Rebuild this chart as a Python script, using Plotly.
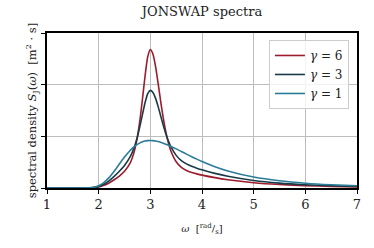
import plotly.graph_objects as go

omega = [1.0, 1.5, 1.8, 1.9, 2.0, 2.1, 2.2, 2.3, 2.4, 2.5, 2.6, 2.65, 2.7, 2.75, 2.8, 2.85, 2.9, 2.95,
         3.0, 3.05, 3.1, 3.15, 3.2, 3.25, 3.3, 3.35, 3.4, 3.5, 3.6, 3.7, 3.8, 3.9, 4.0, 4.25, 4.5,
         5.0, 5.5, 6.0, 6.5, 7.0]

s_gamma1 = [0.0, 0.0, 0.0027, 0.0133, 0.0435, 0.1047, 0.201, 0.3253, 0.463, 0.598, 0.716, 0.7663,
            0.809, 0.8448, 0.873, 0.8945, 0.909, 0.9173, 0.92, 0.9175, 0.911, 0.8997, 0.885, 0.8684,
            0.849, 0.8278, 0.805, 0.757, 0.706, 0.656, 0.606, 0.5583, 0.513, 0.4126, 0.330,
            0.212, 0.139, 0.093, 0.0635, 0.0445]

s_gamma3 = [0.0, 0.0, 0.0018, 0.0091, 0.0298, 0.0717, 0.1377, 0.2237, 0.323, 0.4368, 0.5864, 0.6901,
            0.823, 0.9934, 1.2014, 1.4347, 1.6597, 1.8271, 1.8898, 1.8498, 1.7398, 1.5794, 1.3965,
            1.2162, 1.0514, 0.9107, 0.7953, 0.6316, 0.5305, 0.4666, 0.4206, 0.3839, 0.3517, 0.2825,
            0.226, 0.1452, 0.0952, 0.0637, 0.0435, 0.0305]

s_gamma6 = [0.0, 0.0, 0.0013, 0.0065, 0.0211, 0.0509, 0.0978, 0.1591, 0.2318, 0.3228, 0.4658, 0.582,
            0.7497, 0.9916, 1.3241, 1.7417, 2.1865, 2.543, 2.6816, 2.5942, 2.3581, 2.0298, 1.6782,
            1.3555, 1.0842, 0.8715, 0.7111, 0.5077, 0.3992, 0.3389, 0.301, 0.2731, 0.2497, 0.2004,
            0.1603, 0.103, 0.0675, 0.0451, 0.0308, 0.0216]

series = [
    ("<i>γ</i> = 6", s_gamma6, "#9b1c2c"),
    ("<i>γ</i> = 3", s_gamma3, "#173c47"),
    ("<i>γ</i> = 1", s_gamma1, "#2a7c99"),
]

x_ticks = [1, 2, 3, 4, 5, 6, 7]
y_ticks = [0, 1, 2, 3]

FONT = "DejaVu Serif"

fig = go.Figure()
for name, vals, col in series:
    fig.add_trace(go.Scatter(x=omega, y=vals, mode="lines", name=name,
                             line=dict(color=col, width=1.6, shape="spline", smoothing=0.6)))

fig.update_layout(
    width=374, height=248,
    margin=dict(l=47, r=17, t=33, b=60, autoexpand=False),
    paper_bgcolor="white", plot_bgcolor="white",
    font=dict(family=FONT, size=11, color="#222222"),
    title=dict(text="JONSWAP spectra", x=0.5, xref="paper", xanchor="center",
               y=1, yref="container", yanchor="top", pad=dict(t=7),
               font=dict(family=FONT, size=13, color="#222222")),
    showlegend=True,
    legend=dict(x=0.974, xanchor="right", y=0.955, yanchor="top",
                bgcolor="rgba(255,255,255,0.8)", bordercolor="#cccccc", borderwidth=1,
                font=dict(family=FONT, size=12, color="#222222"),
                itemwidth=30, tracegroupgap=0),
)

fig.update_xaxes(range=[1, 7], tickvals=x_ticks, ticktext=[str(t) for t in x_ticks],
                 showgrid=True, gridcolor="#bdbdbd", gridwidth=1, automargin=False,
                 showline=True, linecolor="black", linewidth=1.5, mirror=True,
                 ticks="outside", ticklen=4, tickwidth=1.2, tickcolor="black",
                 zeroline=False, tickfont=dict(family=FONT, size=13),
                 title=dict(text="<i>ω</i>  [<sup>rad</sup>/<sub>s</sub>]", standoff=14,
                            font=dict(family=FONT, size=10)))

fig.update_yaxes(range=[0, 3], tickvals=y_ticks, ticktext=["", "", "", ""],
                 showgrid=True, gridcolor="#bdbdbd", gridwidth=1, automargin=False,
                 showline=True, linecolor="black", linewidth=1.5, mirror=True,
                 ticks="outside", ticklen=4, tickwidth=1.2, tickcolor="black",
                 zeroline=False,
                 title=dict(text="spectral density <i>S</i><sub>J</sub>(<i>ω</i>)  [m<sup>2</sup> · s]",
                            standoff=0, font=dict(family=FONT, size=11.5)))

fig.write_html("out.html", config={"displayModeBar": False},
               post_script="document.body.style.margin='0px';")
